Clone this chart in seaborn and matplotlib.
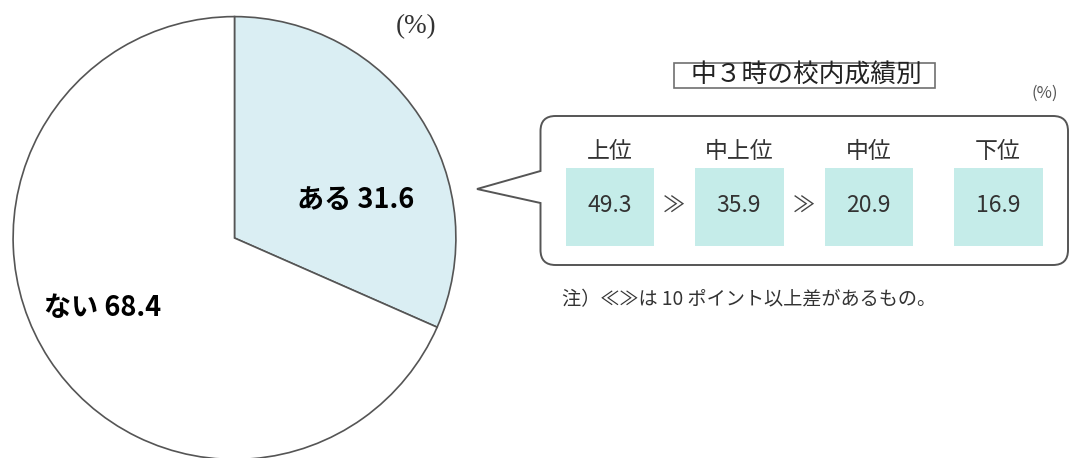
import matplotlib
matplotlib.use('Agg')
import pandas as pd
import matplotlib.pyplot as plt
import seaborn as sns
from matplotlib.colors import ListedColormap
from matplotlib.path import Path
from matplotlib.patches import PathPatch, Rectangle

# data
pie_labels = ['ある', 'ない']
pie_values = [31.6, 68.4]
grade_labels = ['上位', '中上位', '中位', '下位']
grade_values = [49.3, 35.9, 20.9, 16.9]
big_gap = [True, True, False]      # ≫ marks between neighbouring grades

sns.set_theme(style='white')
plt.rcParams['font.family'] = ['Noto Sans CJK JP', 'DejaVu Sans']

W, H = 1079, 458
fig = plt.figure(figsize=(W / 100, H / 100), dpi=100)


def frac(x0, y0, x1, y1):
    # pixel box (y from top) -> figure fraction rect
    return [x0 / W, 1 - y1 / H, (x1 - x0) / W, (y1 - y0) / H]


# pie on the left
ax_pie = fig.add_axes(frac(12, 15.5, 457, 460.5))
wedges, _ = ax_pie.pie(pie_values, colors=['#daeef3', 'white'], startangle=90,
                       counterclock=False,
                       wedgeprops=dict(edgecolor='#555555', linewidth=1.2))
for w in wedges:
    w.set_clip_on(False)
ax_pie.set_xlim(-1.005, 1.005)
ax_pie.set_ylim(-1.005, 1.005)
label_pos = [(0.546, 0.171), (-0.596, -0.315)]
for (x, y), lab, val in zip(label_pos, pie_labels, pie_values):
    ax_pie.text(x, y, f'{lab} {val:.1f}', ha='center', va='center',
                fontsize=19.5, fontweight='bold', color='black')

# tiles of the grade breakdown
ax_hm = fig.add_axes(frac(544.5, 146.5, 1062.5, 265.5), zorder=1)
ax_hm.patch.set_alpha(0)
df = pd.DataFrame([grade_values], columns=grade_labels)
sns.heatmap(df, ax=ax_hm, cmap=ListedColormap(['#c5ece9']), annot=True, fmt='.1f',
            cbar=False, linewidths=41 * 0.72, linecolor='white',
            xticklabels=False, yticklabels=False,
            annot_kws=dict(fontsize=16.5, color='#333333'))
for i, lab in enumerate(grade_labels):
    ax_hm.text(i + 0.5, 0.046, lab, ha='center', va='center', fontsize=16.5,
               color='#333333', clip_on=False)
for i, flag in enumerate(big_gap):
    if flag:
        ax_hm.text(i + 1, 0.5, '≫', ha='center', va='center', fontsize=16,
                   color='#444444')

# overlay in pixel coordinates
ax = fig.add_axes([0, 0, 1, 1], zorder=3)
ax.patch.set_alpha(0)
ax.set_xlim(0, W)
ax.set_ylim(H, 0)
ax.axis('off')

L, R, T, B, r = 540.5, 1068, 116, 265, 15
verts = [(L, 171), (L, T + r), (L, T), (L + r, T), (R - r, T), (R, T), (R, T + r),
         (R, B - r), (R, B), (R - r, B), (L + r, B), (L, B), (L, B - r),
         (L, 203), (477, 189), (L, 171)]
codes = [Path.MOVETO, Path.LINETO, Path.CURVE3, Path.CURVE3, Path.LINETO,
         Path.CURVE3, Path.CURVE3, Path.LINETO, Path.CURVE3, Path.CURVE3,
         Path.LINETO, Path.CURVE3, Path.CURVE3, Path.LINETO, Path.LINETO,
         Path.CLOSEPOLY]
ax.add_patch(PathPatch(Path(verts, codes), fc='none', ec='#555555', lw=1.4))

ax.add_patch(Rectangle((674, 63), 261, 25, fc='white', ec='#707070', lw=1.2))
ax.text(806, 75.5, '中３時の校内成績別', ha='center', va='center',
        fontsize=18.5, color='#222222')
ax.text(1045, 93, '(%)', ha='center', va='center', fontsize=12, color='#555555')
ax.text(562, 300, '注）≪≫は 10 ポイント以上差があるもの。', ha='left', va='center',
        fontsize=13.8, color='#333333')
ax.text(416, 27, '(%)', ha='center', va='center', fontsize=19.5, color='#333333',
        family='Liberation Serif')

fig.savefig('out.png', dpi=100)
